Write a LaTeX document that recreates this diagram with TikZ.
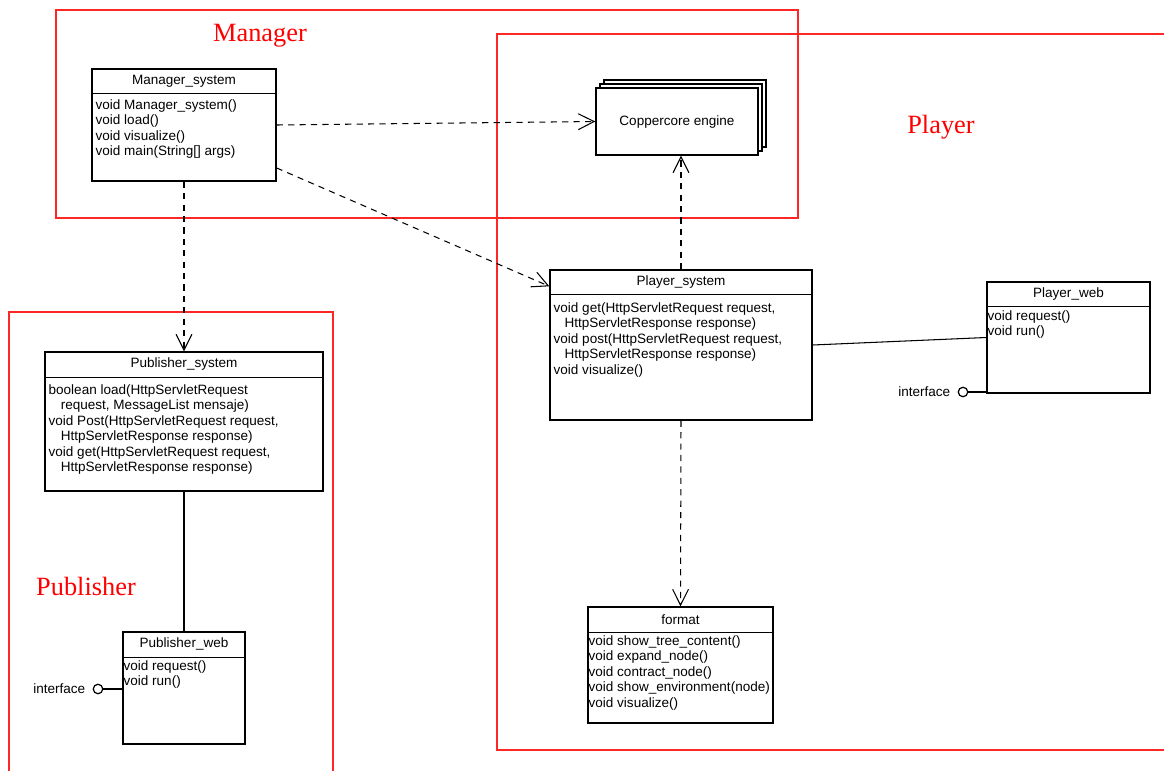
\documentclass[tikz,border=0pt]{standalone}
\usepackage{fontspec}
\setmainfont{Liberation Serif}
\setsansfont{Liberation Sans}
\usetikzlibrary{arrows.meta,positioning}

\begin{document}
\begin{tikzpicture}[
  x=0.02cm, y=-0.02cm,
  frame/.style={draw=red!85, line width=0.7pt},
  area/.style={text=red, font=\fontsize{15}{17}\selectfont},
  classbox/.style={draw, line width=0.8pt, inner sep=0pt},
  sep/.style={line width=0.8pt},
  header/.style={font=\sffamily\fontsize{7.7}{8.6}\selectfont},
  methods/.style={anchor=north west, align=left, inner sep=0pt, font=\sffamily\fontsize{7.7}{8.8}\selectfont},
  dep/.style={draw, dash pattern=on 3.5pt off 3pt, line width=0.6pt, -{Straight Barb[length=9pt,width=9pt]}},
  link/.style={draw, line width=0.6pt},
  lolli/.style={draw, circle, line width=0.7pt, minimum size=0.19cm, inner sep=0pt},
  ifname/.style={font=\sffamily\fontsize{7.7}{8.6}\selectfont, inner sep=1pt},
]
\useasboundingbox (0,0) rectangle (1164,771);

% packages
\draw[frame] (56,10) rectangle (798,218);
\draw[frame] (497,34) rectangle (1175,750);
\draw[frame] (9,312) rectangle (333,780);
\node[area] (manager) at (260,36) {Manager};
\node[area] (player) at (941,127) {Player};
\node[area] (publisher) at (86,586) {Publisher};

% Manager_system
\node[classbox, minimum width=3.68cm, minimum height=2.24cm] (mgr) at (184,125) {};
\draw[sep] (mgr.north west) ++(0,25) -- ++(184,0);
\path (mgr.north) ++(0,12.5) node[header] (mgrT) {Manager\_system};
\path (mgr.north west) ++(4,31) node[methods] (mgrM) {void Manager\_system()\\ void load()\\ void visualize()\\ void main(String[] args)};

% Coppercore engine
\draw[classbox, fill=white] (604,80) rectangle (766,147);
\draw[classbox, fill=white] (600,84) rectangle (762,151);
\node[classbox, fill=white, minimum width=3.24cm, minimum height=1.34cm, header] (eng) at (677,121.5) {Coppercore engine};

% Player_system
\node[classbox, minimum width=5.24cm, minimum height=3cm] (plsys) at (681,345) {};
\draw[sep] (plsys.north west) ++(0,25) -- ++(262,0);
\path (plsys.north) ++(0,12.5) node[header] (plsysT) {Player\_system};
\path (plsys.north west) ++(4,33) node[methods] (plsysM) {void get(HttpServletRequest request,\\ \hspace*{0.8em}HttpServletResponse response)\\ void post(HttpServletRequest request,\\ \hspace*{0.8em}HttpServletResponse response)\\ void visualize()};

% Player_web
\node[classbox, minimum width=3.26cm, minimum height=2.22cm] (plweb) at (1068.5,337.5) {};
\draw[sep] (plweb.north west) ++(0,25) -- ++(163,0);
\path (plweb.north) ++(0,12.5) node[header] (plwebT) {Player\_web};
\path (plweb.north west) ++(1,29) node[methods] (plwebM) {void request()\\ void run()};

% Publisher_system
\node[classbox, minimum width=5.56cm, minimum height=2.78cm] (pubsys) at (184,421.5) {};
\draw[sep] (pubsys.north west) ++(0,26) -- ++(278,0);
\path (pubsys.north) ++(0,13) node[header] (pubsysT) {Publisher\_system};
\path (pubsys.north west) ++(4,33) node[methods] (pubsysM) {boolean load(HttpServletRequest\\ \hspace*{0.9em}request, MessageList mensaje)\\ void Post(HttpServletRequest request,\\ \hspace*{0.9em}HttpServletResponse response)\\ void get(HttpServletRequest request,\\ \hspace*{0.9em}HttpServletResponse response)};

% Publisher_web
\node[classbox, minimum width=2.44cm, minimum height=2.24cm] (pubweb) at (184,688) {};
\draw[sep] (pubweb.north west) ++(0,26) -- ++(122,0);
\path (pubweb.north) ++(0,13) node[header] (pubwebT) {Publisher\_web};
\path (pubweb.north west) ++(1,29) node[methods] (pubwebM) {void request()\\ void run()};

% format
\node[classbox, minimum width=3.7cm, minimum height=2.32cm] (fmt) at (680.5,665) {};
\draw[sep] (fmt.north west) ++(0,26) -- ++(185,0);
\path (fmt.north) ++(0,13) node[header] (fmtT) {format};
\path (fmt.north west) ++(1,29) node[methods] (fmtM) {void show\_tree\_content()\\ void expand\_node()\\ void contract\_node()\\ void show\_environment(node)\\ void visualize()};

% dependencies
\draw[dep] (mgr.east) -- (eng.west);
\draw[dep] ([yshift=-0.86cm]mgr.east) -- ([yshift=-0.34cm]plsys.north west);
\draw[dep] (mgr.south) -- (pubsys.north);
\draw[dep] (plsys.north) -- (plsys.north |- eng.south);
\draw[dep] (plsys.south) -- (fmt.north);
\draw[link] (plsys.east) -- (plweb.west);
\draw[link] (pubsys.south) -- (pubweb.north);

% interfaces
\node[lolli] (plif) at (963,392) {};
\node[ifname, left=3pt of plif] (plifT) {interface};
\draw[link] (plif) -- (plif -| plweb.west);
\node[lolli] (pubif) at (98,689) {};
\node[ifname, left=3pt of pubif] (pubifT) {interface};
\draw[link] (pubif) -- (pubif -| pubweb.west);
\end{tikzpicture}
\end{document}
